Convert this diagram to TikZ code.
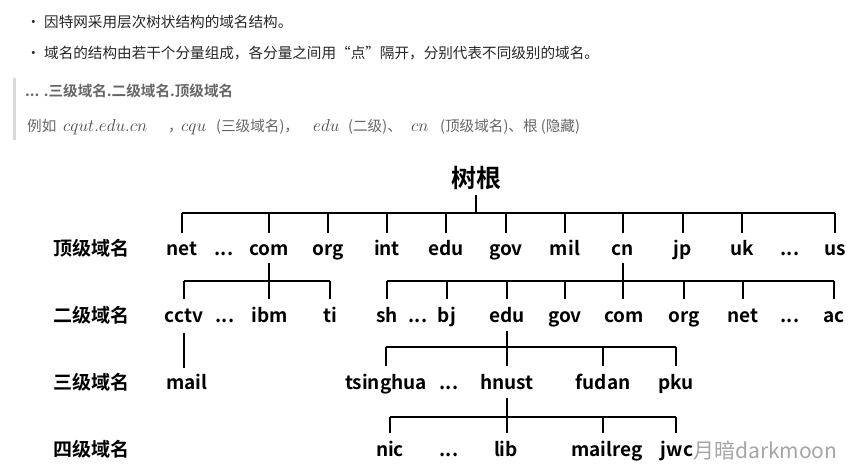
\documentclass[tikz,border=0pt]{standalone}
\usepackage{fontspec}
\setmainfont{Noto Sans CJK SC}[BoldFont={Noto Sans CJK SC Bold}]
\begin{document}
\begin{tikzpicture}[x=1pt,y=-1pt,
  lab/.style={anchor=base,inner sep=0pt,font=\fontsize{19}{22}\selectfont\bfseries,text=black},
  lvl/.style={anchor=base,inner sep=0pt,font=\fontsize{19}{22}\selectfont\bfseries,text=black},
  txt/.style={anchor=base west,inner sep=0pt,font=\fontsize{14.6}{16}\selectfont,text=black!85},
  gtxt/.style={anchor=base west,inner sep=0pt,font=\fontsize{14.6}{16}\selectfont,text=black!60},
  mth/.style={anchor=base west,inner sep=0pt,font=\fontsize{17.5}{20}\selectfont,text=black!70},
  tree/.style={line width=1.8pt,black}]
\useasboundingbox[fill=white] (0,0) rectangle (863,474);
% header text
\node[txt] (b1) at (26,27) {•};
\node[txt] (t1) at (44,27) {因特网采用层次树状结构的域名结构。};
\node[txt] (b2) at (26,58) {•};
\node[txt] (t2) at (44,58) {域名的结构由若干个分量组成，各分量之间用“点”隔开，分别代表不同级别的域名。};
\fill[black!15] (13,78) rectangle (16,140);
\node[gtxt,font=\fontsize{14.6}{16}\selectfont\bfseries] (t3) at (25,96) {... .三级域名.二级域名.顶级域名};
\node[gtxt] (e1) at (27,131) {例如};
\node[mth] (e2) at (63,131) {$cqut.edu.cn$};
\node[gtxt] (e3) at (168,131) {，};
\node[mth] (e4) at (181,131) {$cqu$};
\node[gtxt] (e5) at (216,131) {(三级域名)，};
\node[mth] (e6) at (313,131) {$edu$};
\node[gtxt] (e7) at (348,131) {(二级)、};
\node[mth] (e8) at (411,131) {$cn$};
\node[gtxt] (e9) at (440,131) {(顶级域名)、根 (隐藏)};
% level labels
\node[lvl] (L1) at (91,255) {顶级域名};
\node[lvl] (L2) at (91,322) {二级域名};
\node[lvl] (L3) at (91,389) {三级域名};
\node[lvl] (L4) at (91,456) {四级域名};
% root
\node[lab,font=\fontsize{25}{28}\selectfont\bfseries] (root) at (476,187) {树根};
% top level
\node[lab] (net) at (182,255) {net};
\node[lab] (dA) at (224,255) {...};
\node[lab] (com) at (269,255) {com};
\node[lab] (org) at (328,255) {org};
\node[lab] (int) at (387,255) {int};
\node[lab] (edu) at (446,255) {edu};
\node[lab] (gov) at (506,255) {gov};
\node[lab] (mil) at (565,255) {mil};
\node[lab] (cn) at (623,255) {cn};
\node[lab] (jp) at (683,255) {jp};
\node[lab] (uk) at (742,255) {uk};
\node[lab] (dB) at (790,255) {...};
\node[lab] (us) at (835,255) {us};
% second level
\node[lab] (cctv) at (184,322) {cctv};
\node[lab] (dC) at (225,322) {...};
\node[lab] (ibm) at (270,322) {ibm};
\node[lab] (ti) at (330,322) {ti};
\node[lab] (sh) at (387,322) {sh};
\node[lab] (dD) at (418,322) {...};
\node[lab] (bj) at (447,322) {bj};
\node[lab] (edu2) at (507,322) {edu};
\node[lab] (gov2) at (565,322) {gov};
\node[lab] (com2) at (624,322) {com};
\node[lab] (org2) at (684,322) {org};
\node[lab] (net2) at (743,322) {net};
\node[lab] (dE) at (790,322) {...};
\node[lab] (ac) at (834,322) {ac};
% third level
\node[lab] (mail) at (187,389) {mail};
\node[lab] (tsinghua) at (386,389) {tsinghua};
\node[lab] (dF) at (449,389) {...};
\node[lab] (hnust) at (507,389) {hnust};
\node[lab] (fudan) at (603,389) {fudan};
\node[lab] (pku) at (676,389) {pku};
% fourth level
\node[lab] (nic) at (390,456) {nic};
\node[lab] (dG) at (449,456) {...};
\node[lab] (lib) at (506,456) {lib};
\node[lab] (mailreg) at (607,456) {mailreg};
\node[lab] (jwc) at (677,456) {jwc};
\node[anchor=base west,inner sep=0pt,font=\fontsize{21}{24}\selectfont,text=black!35] (wm) at (693,458) {月暗darkmoon};
% bus coordinates
\coordinate (s0) at (0,195); \coordinate (b0) at (0,213); \coordinate (d0) at (0,233);
\coordinate (s1) at (0,263); \coordinate (b1y) at (0,281); \coordinate (d1) at (0,299);
\coordinate (s2) at (0,331); \coordinate (b2y) at (0,347); \coordinate (d2) at (0,366);
\coordinate (s3) at (0,398); \coordinate (b3y) at (0,417); \coordinate (d3) at (0,433);
% root tree
\draw[tree] (root |- s0) -- (root |- b0);
\draw[tree] (net |- b0) -- (us |- b0);
\foreach \n in {net,com,org,int,edu,gov,mil,cn,jp,uk,us}
  \draw[tree] (\n |- b0) -- (\n |- d0);
% com subtree
\draw[tree] (com |- s1) -- (com |- b1y);
\draw[tree] (cctv |- b1y) -- (ti |- b1y);
\foreach \n in {cctv,com,ti}
  \draw[tree] (\n |- b1y) -- (\n |- d1);
% cn subtree
\draw[tree] (cn |- s1) -- (cn |- b1y);
\draw[tree] (sh |- b1y) -- (ac |- b1y);
\foreach \n in {sh,bj,edu2,gov2,cn,org2,net2,ac}
  \draw[tree] (\n |- b1y) -- (\n |- d1);
% cctv -> mail
\draw[tree,line width=1.4pt] (cctv.south |- 0,333) -- (cctv.south |- 0,368);
% edu subtree
\draw[tree] (edu2 |- s2) -- (edu2 |- b2y);
\draw[tree] (tsinghua |- b2y) -- (pku |- b2y);
\foreach \n in {tsinghua,edu2,fudan,pku}
  \draw[tree] (\n |- b2y) -- (\n |- d2);
% hnust subtree
\draw[tree] (hnust |- s3) -- (hnust |- b3y);
\draw[tree] (nic |- b3y) -- (pku |- b3y);
\foreach \n in {nic,hnust,fudan,pku}
  \draw[tree] (\n |- b3y) -- (\n |- d3);
\end{tikzpicture}
\end{document}
